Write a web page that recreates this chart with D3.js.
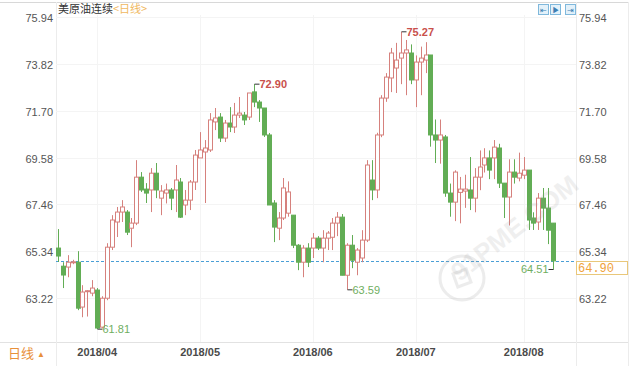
<!DOCTYPE html>
<html lang="zh">
<head>
<meta charset="UTF-8">
<script src="https://d3js.org/d3.v7.min.js"></script>
<style>
  body { margin: 0; background: #fff; font-family: "Liberation Sans", Arial, sans-serif; }
  svg { display: block; }
</style>
</head>
<body>
<svg width="638" height="369"></svg>
<script>
// daily candles (oldest first)
const open = [65.48,64.66,64.62,64.85,64.84,62.81,63.53,63.44,63.58,61.90,
  63.21,65.52,66.66,67.11,67.11,66.38,66.61,68.69,68.15,68.11,
  68.87,67.74,67.97,68.11,68.11,68.47,67.43,67.65,68.47,69.56,
  69.83,69.92,71.19,71.41,70.46,71.14,70.96,71.50,71.50,71.41,
  72.55,72.09,71.82,70.60,67.52,66.38,66.84,67.06,66.97,65.61,
  64.84,65.48,65.48,65.93,65.48,65.93,65.97,66.61,66.88,64.25,
  65.61,64.84,65.03,65.84,68.56,68.11,70.60,72.27,73.18,73.63,
  74.08,74.31,74.31,73.09,73.90,73.99,74.22,70.60,70.37,70.51,
  67.97,67.56,68.00,68.06,68.11,67.74,68.69,69.24,69.56,69.56,
  70.01,68.42,67.79,68.92,68.65,68.78,69.01,66.84,66.66,67.74,
  67.29,66.61];
const close = [65.12,64.26,64.84,64.86,62.76,63.49,63.55,63.67,61.86,63.21,
  65.52,66.75,67.11,67.34,66.20,66.61,68.69,68.11,67.97,68.87,
  68.11,68.06,68.11,67.74,68.56,66.88,67.65,68.47,69.69,69.92,
  70.01,71.28,71.37,70.46,71.14,70.96,71.50,71.59,71.28,72.50,
  72.09,71.82,70.60,67.43,66.43,66.84,68.20,68.02,65.61,64.84,
  65.48,64.84,65.93,65.48,65.93,66.16,66.61,66.88,64.25,65.61,
  64.93,65.39,65.84,69.24,68.11,70.60,72.27,73.22,74.31,73.99,
  74.31,74.45,73.09,73.90,74.08,74.22,70.60,70.37,70.60,67.97,
  67.56,68.92,68.15,68.15,67.74,68.69,69.15,69.56,69.01,70.05,
  68.42,67.79,68.92,68.69,68.87,69.01,66.75,66.61,67.74,67.29,
  66.29,64.90];
const high = [66.34,64.84,65.16,64.95,65.34,63.80,63.58,64.03,63.67,63.30,
  65.70,66.97,67.34,67.65,67.20,66.84,69.46,68.92,68.42,69.10,
  69.33,68.33,68.40,68.20,69.24,68.65,68.11,68.56,69.92,70.73,
  70.37,71.59,71.82,71.59,71.28,71.86,72.05,72.32,71.64,72.50,
  72.90,72.18,71.82,70.69,67.65,67.11,68.65,68.50,66.97,65.66,
  65.61,65.70,66.16,66.02,66.29,66.25,66.84,67.11,67.02,65.70,
  66.07,65.48,66.29,69.46,69.46,70.70,72.40,73.40,74.54,74.77,
  75.27,74.90,74.70,74.20,74.60,74.80,74.22,71.30,71.30,70.60,
  68.40,69.00,68.70,68.80,69.60,69.10,69.90,70.00,69.90,70.37,
  70.20,68.42,69.50,69.50,69.80,69.60,69.01,67.10,67.97,68.20,
  68.20,66.61];
const low = [64.85,63.67,64.16,64.75,62.67,62.35,62.38,63.30,61.81,61.85,
  63.12,65.39,65.98,66.66,66.07,65.52,66.52,68.02,67.52,67.11,
  67.74,66.97,67.50,67.20,67.11,66.84,66.97,67.20,68.11,69.56,
  67.52,69.83,70.82,70.28,70.28,70.73,70.69,71.37,71.05,71.28,
  71.86,71.19,70.51,67.43,65.75,65.84,66.75,66.90,65.48,64.48,
  64.16,64.62,65.03,65.39,64.84,65.39,65.39,66.02,64.25,63.59,
  64.57,64.25,64.84,65.75,67.65,67.74,70.50,72.10,72.54,72.50,
  72.90,72.40,72.90,71.86,72.40,73.40,70.07,69.33,69.30,67.80,
  66.90,66.70,66.60,67.30,67.20,67.10,68.10,68.90,68.60,68.60,
  68.20,66.84,66.50,68.40,68.50,68.60,66.30,66.30,66.30,66.30,
  65.66,64.51];

const priceTicks = [63.22, 65.34, 67.46, 69.58, 71.70, 73.82, 75.94];
const monthLabels = ["2018/04", "2018/05", "2018/06", "2018/07", "2018/08"];
const monthIndex = [8, 29, 52, 73, 95];
const markHigh = [40, 70];        // candles whose high is labelled
const markLow = [8, 59, 101];     // candles whose low is labelled
const lastPrice = 64.90;

const svg = d3.select("svg");
const upColor = "#d6817d";
const downColor = "#62ad55";
const plotLeft = 56, plotRight = 576;

const x = d3.scaleBand()
  .domain(d3.range(open.length))
  .range([55.5, 555.5]);
const y = d3.scaleLinear()
  .domain([63.22, 75.94])
  .range([298, 17]);
const cx = i => x(i) + x.bandwidth() / 2;

// frame
svg.append("line").attr("x1", 0).attr("x2", 628).attr("y1", 2.5).attr("y2", 2.5).attr("stroke", "#d8d8d8");
svg.append("line").attr("x1", 0).attr("x2", 628).attr("y1", 342.5).attr("y2", 342.5).attr("stroke", "#e2e2e2");
[plotLeft + 0.5, plotRight + 0.5, 628.5].forEach(v => {
  svg.append("line").attr("x1", v).attr("x2", v).attr("y1", 2).attr("y2", 366).attr("stroke", "#ececec");
});

// faint grid
svg.append("g").selectAll("line").data(priceTicks).join("line")
  .attr("x1", plotLeft).attr("x2", plotRight)
  .attr("y1", d => Math.round(y(d)) + 0.5).attr("y2", d => Math.round(y(d)) + 0.5)
  .attr("stroke", "#f4f4f4");
svg.append("g").selectAll("line").data(monthIndex).join("line")
  .attr("x1", d => Math.round(cx(d)) + 0.5).attr("x2", d => Math.round(cx(d)) + 0.5)
  .attr("y1", 15).attr("y2", 342)
  .attr("stroke", "#f4f4f4");

// price axes
const tickFmt = d3.format(".2f");
const leftAxis = d3.axisLeft(y).tickValues(priceTicks).tickFormat(tickFmt).tickSize(0).tickPadding(0);
const rightAxis = d3.axisRight(y).tickValues(priceTicks).tickFormat(tickFmt).tickSize(0).tickPadding(0);
svg.append("g").attr("transform", "translate(53,1)").call(leftAxis)
  .call(g => g.select(".domain").remove());
svg.append("g").attr("transform", "translate(579,1)").call(rightAxis)
  .call(g => g.select(".domain").remove());
svg.selectAll(".tick text")
  .attr("font-family", "'Liberation Sans', Arial, sans-serif")
  .attr("font-size", 11).attr("fill", "#555");

// month axis
const xAxis = d3.axisBottom(x)
  .tickValues(monthIndex)
  .tickFormat((d, i) => monthLabels[i])
  .tickSize(0).tickPadding(0);
svg.append("g").attr("transform", "translate(0,348)").call(xAxis)
  .call(g => g.select(".domain").remove())
  .selectAll("text")
  .attr("font-family", "'Liberation Sans', Arial, sans-serif")
  .attr("font-size", 11).attr("font-weight", "bold").attr("fill", "#4a4a4a");

// last price line
const lastY = Math.round(y(lastPrice)) + 0.5;
svg.append("line")
  .attr("x1", plotLeft).attr("x2", plotRight)
  .attr("y1", lastY).attr("y2", lastY)
  .attr("stroke", "#4a9fd6").attr("stroke-dasharray", "3,2");

// candles
const candles = svg.append("g").selectAll("g")
  .data(d3.range(open.length)).join("g");
candles.append("line")
  .attr("x1", i => Math.round(cx(i)) + 0.5).attr("x2", i => Math.round(cx(i)) + 0.5)
  .attr("y1", i => y(high[i])).attr("y2", i => y(low[i]))
  .attr("stroke", i => close[i] >= open[i] ? upColor : downColor);
candles.append("rect")
  .attr("x", i => Math.round(cx(i)) - 1.5)
  .attr("width", 4)
  .attr("y", i => y(Math.max(open[i], close[i])))
  .attr("height", i => Math.max(1, Math.abs(y(open[i]) - y(close[i]))))
  .attr("fill", i => close[i] >= open[i] ? "#fff" : downColor)
  .attr("stroke", i => close[i] >= open[i] ? upColor : downColor)
  .attr("stroke-width", 1);

// high / low markers
const markG = svg.append("g").attr("font-family", "'Liberation Sans', Arial, sans-serif").attr("font-size", 11);
markHigh.forEach(i => {
  const px = Math.round(cx(i)) + 0.5, py = y(high[i]);
  markG.append("line").attr("x1", px).attr("x2", px + 5).attr("y1", py).attr("y2", py).attr("stroke", "#333");
  markG.append("text").attr("x", px + 5).attr("y", py).attr("dy", "0.35em")
    .attr("fill", "#c9504b").attr("font-weight", "bold").text(high[i].toFixed(2));
});
markLow.forEach(i => {
  const px = Math.round(cx(i)) + 0.5, py = y(low[i]);
  const toLeft = i === open.length - 1;
  markG.append("line").attr("x1", px).attr("x2", toLeft ? px - 5 : px + 5).attr("y1", py).attr("y2", py).attr("stroke", "#333");
  markG.append("text").attr("x", toLeft ? px - 5 : px + 5).attr("y", py).attr("dy", "0.35em")
    .attr("text-anchor", toLeft ? "end" : "start")
    .attr("fill", "#6fae5f").text(low[i].toFixed(2));
});

// last price box, hanging just under the dashed line
svg.append("rect").attr("x", 576.5).attr("y", lastY)
  .attr("width", 51).attr("height", 13).attr("fill", "#fff").attr("stroke", "#e9c77a");
svg.append("text").attr("x", 578).attr("y", lastY + 6.5).attr("dy", "0.35em")
  .attr("font-family", "'Liberation Mono', monospace").attr("font-size", 12)
  .attr("fill", "#f0a23a").text(lastPrice.toFixed(2));

// title
svg.append("text").attr("x", 58).attr("y", 13)
  .attr("font-family", "'Noto Sans CJK SC', sans-serif").attr("font-size", 11).attr("fill", "#333")
  .text("美原油连续");
svg.append("text").attr("x", 113).attr("y", 13)
  .attr("font-family", "'Noto Sans CJK SC', sans-serif").attr("font-size", 11).attr("fill", "#f0b860")
  .text("<日线>");

// navigation buttons (top right)
const btnG = svg.append("g");
[538, 550, 565].forEach((bx, k) => {
  btnG.append("rect").attr("x", bx + 0.5).attr("y", 4.5).attr("width", 10).attr("height", 10)
    .attr("fill", "#e3f1fa").attr("stroke", "#7fb8dc");
  btnG.append("text").attr("x", bx + 5.5).attr("y", 12.5).attr("text-anchor", "middle")
    .attr("font-size", 8).attr("fill", "#3d7fb3").text(["⇤", "▶", "⇥"][k]);
});

// bottom left period switch
svg.append("text").attr("x", 8).attr("y", 358)
  .attr("font-family", "'Noto Sans CJK SC', sans-serif").attr("font-size", 13).attr("fill", "#e8903a")
  .text("日线");
svg.append("text").attr("x", 37).attr("y", 357)
  .attr("font-size", 8).attr("fill", "#e8903a").text("▲");

// faint watermark
const wm = svg.append("g").attr("opacity", 0.18).attr("fill", "none").attr("stroke", "#999");
wm.append("circle").attr("cx", 462).attr("cy", 278).attr("r", 22).attr("stroke-width", 3);
wm.append("rect").attr("x", 455).attr("y", 271).attr("width", 14).attr("height", 14)
  .attr("transform", "rotate(-20,462,278)").attr("stroke-width", 3);
svg.append("text").attr("x", 520).attr("y", 235)
  .attr("transform", "rotate(-38,520,235)")
  .attr("text-anchor", "middle").attr("font-size", 26).attr("font-weight", "bold")
  .attr("fill", "#999").attr("opacity", 0.15).text("91PME.COM");
</script>
</body>
</html>
